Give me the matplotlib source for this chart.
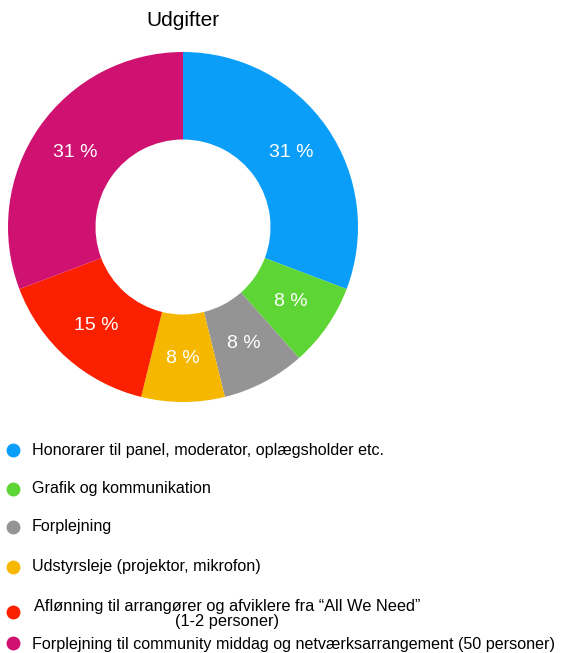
import matplotlib
matplotlib.use("Agg")
import matplotlib.pyplot as plt

plt.rcParams['font.family'] = ['Liberation Sans', 'DejaVu Sans']

title = "Udgifter"
categories = [
    "Honorarer til panel, moderator, oplægsholder etc.",
    "Grafik og kommunikation",
    "Forplejning",
    "Udstyrsleje (projektor, mikrofon)",
    "Aflønning til arrangører og afviklere fra “All We Need”\n(1-2 personer)",
    "Forplejning til community middag og netværksarrangement (50 personer)",
]
values = [20000, 5000, 5000, 5000, 10000, 20000]
colors = ["#0a9ef9", "#5dd535", "#949494", "#f5b700", "#fb2000", "#cf1271"]

W, H = 566, 653
fig = plt.figure(figsize=(W / 100, H / 100), dpi=100)

cx, cy, R = 183, 227, 175
ax = fig.add_axes([(cx - R) / W, (H - cy - R) / H, 2 * R / W, 2 * R / H])
wedges, texts, autotexts = ax.pie(
    values, colors=colors, startangle=90, counterclock=False,
    radius=1.0, wedgeprops=dict(width=0.5, linewidth=0),
    autopct=lambda p: f"{p:.0f} %", pctdistance=0.75,
    textprops=dict(color="white", fontsize=14))
ax.set_xlim(-1, 1)
ax.set_ylim(-1, 1)
ax.set_aspect("equal")
ax.axis("off")

fig.text(cx / W, 1 - 21 / H, title, ha="center", va="center", fontsize=15, color="black")

# legend
lax = fig.add_axes([0, 0, 1, 1])
lax.set_xlim(0, W)
lax.set_ylim(H, 0)
lax.axis("off")
dot_y = [450, 489, 527, 567, 612, 643]
text_y = [450, 489, 527, 567, 614, 644]
for i, (lab, col) in enumerate(zip(categories, colors)):
    lax.scatter([13], [dot_y[i]], s=100, color=col, linewidths=0)
    if "\n" in lab:
        lax.text(227, text_y[i], lab, ha="center", va="center", fontsize=11.8,
                 multialignment="center", linespacing=1.0)
    else:
        lax.text(32, text_y[i], lab, ha="left", va="center", fontsize=11.6)

fig.savefig("out.png", dpi=100)
